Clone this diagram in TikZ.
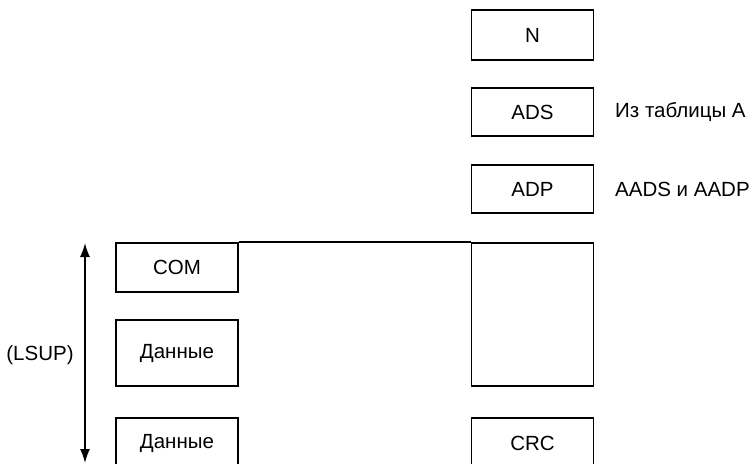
\documentclass[tikz,border=0pt]{standalone}
\usepackage{fontspec}
\setmainfont{Liberation Sans}
\usetikzlibrary{arrows.meta}

\begin{document}
\begin{tikzpicture}[x=1pt,y=-1pt,
  field/.style={draw=black,line width=1.6pt,minimum width=122pt,font=\fontsize{20.5}{22}\selectfont,inner sep=0pt},
  note/.style={anchor=west,font=\fontsize{20.5}{22}\selectfont,inner sep=0pt}]
\useasboundingbox (0,0) rectangle (752,463);
\clip (0,0) rectangle (752,463);

% right column
\node[field,minimum height=50pt] (n) at (532.5,35) {N};
\node[field,minimum height=48pt] (ads) at (532.5,112) {ADS};
\node[field,minimum height=48pt] (adp) at (532.5,189) {ADP};
\node[field,minimum height=143pt] (blk) at (532.5,314.5) {};
\node[field,minimum height=50pt] (crc) at (532.5,443) {CRC};

\node[note] (adsnote) at (615,112) {Из таблицы А};
\node[note] (adpnote) at (615,189) {AADS и AADP};

% left column
\node[field,minimum height=49pt] (com) at (177,267.5) {COM};
\node[field,minimum height=66pt] (dat1) at (177,353) {Данные};
\node[field,minimum height=50pt] (dat2) at (177,443) {Данные};

\draw[line width=1.6pt] (com.north east) -- (blk.north west);

% length arrow
\coordinate (lsuptop) at (85,243);
\coordinate (lsupbot) at (85,463);
\draw[line width=1.6pt,{Latex[length=14pt,width=10pt]}-{Latex[length=14pt,width=10pt]}] (lsuptop) -- (lsupbot);
\node[font=\fontsize{20.5}{22}\selectfont,inner sep=0pt] (lsup) at (40,355) {(LSUP)};
\end{tikzpicture}
\end{document}
